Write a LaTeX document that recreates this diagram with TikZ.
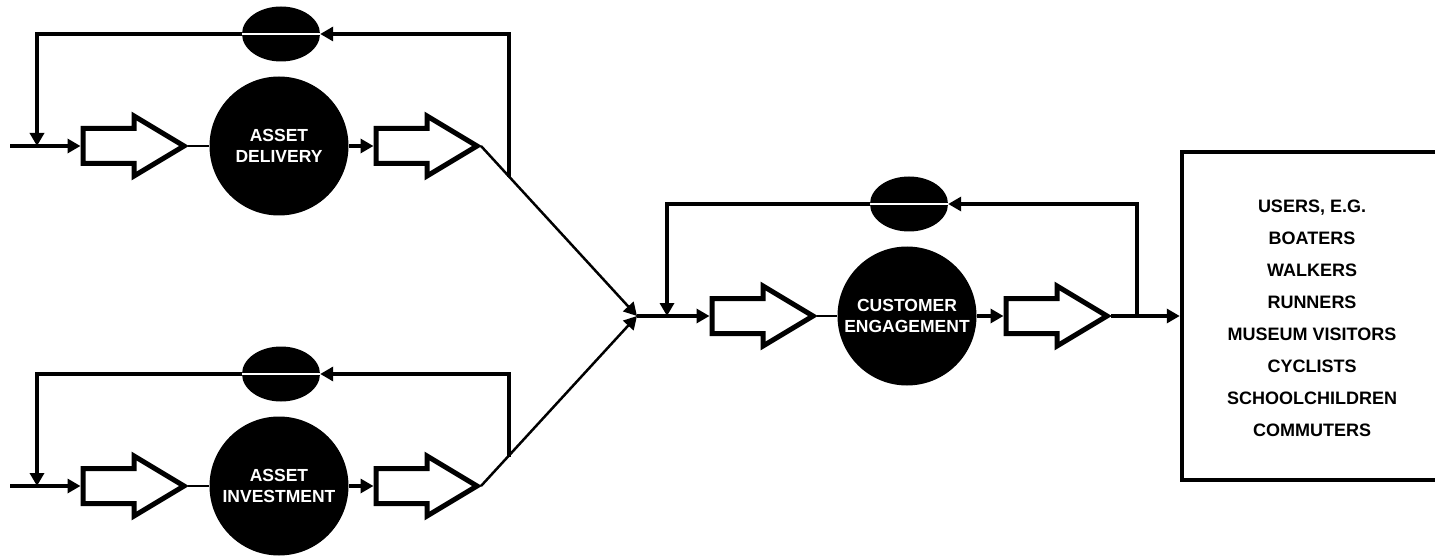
\documentclass[tikz,border=0pt]{standalone}
\usepackage{fontspec}
\newfontfamily\labfont{Liberation Sans}
\usetikzlibrary{arrows.meta,shapes.geometric}
\tikzset{
  conn/.style={line width=4pt, line join=miter},
  thinconn/.style={line width=2.5pt},
  tipped/.style={-{Triangle[length=13pt,width=14pt]}},
  bigarr/.style={draw, line width=5pt, line join=miter, fill=white},
  disc/.style={circle, fill=black, minimum size=139pt, inner sep=0pt, text=white, align=center,
    font=\labfont\bfseries\fontsize{17.5}{21}\selectfont},
  oval/.style={ellipse, fill=black, minimum width=78pt, minimum height=55pt, inner sep=0pt},
  whiteline/.style={draw=white, line width=1.5pt},
  userbox/.style={draw, line width=4.5pt, minimum width=260pt, minimum height=328pt, inner sep=0pt},
  usertext/.style={anchor=north, align=center, inner sep=0pt,
    font=\labfont\bfseries\fontsize{18}{32}\selectfont}
}
% big outlined arrow: name, left x (path), centre y
\newcommand\bigarrow[3]{%
  \draw[bigarr] (#2,#3) ++(0,-17.5) -- ++(51,0) -- ++(0,-12.5) -- ++(50,30) -- ++(-50,30) -- ++(0,-12.5) -- ++(-51,0) -- cycle;
  \coordinate (#1-w) at ({#2-2.5},#3);
  \coordinate (#1-tip) at ({#2+105},#3);
}
\begin{document}
\begin{tikzpicture}[x=1pt,y=-1pt]
\useasboundingbox (0,0) rectangle (1435,556);

% ---------- junction and right box ----------
\coordinate (J) at (637,316);
\node[userbox] (box) at (1312,316) {};
\node[usertext] (users) at (1312,200) {USERS, E.G.\\BOATERS\\WALKERS\\RUNNERS\\MUSEUM VISITORS\\CYCLISTS\\SCHOOLCHILDREN\\COMMUTERS};

% ---------- top module: asset delivery ----------
\node[disc] (Tdisc) at (279,146) {ASSET\\DELIVERY};
\node[oval] (Tell) at (281,34) {};
\coordinate (Tin) at (10,146);
\coordinate (Tfbend) at (37,146);
\coordinate (Tfb0) at (509,177);
\bigarrow{Ta1}{83}{146}
\bigarrow{Ta2}{376}{146}
\draw[conn,tipped] (Tin) -- (Ta1-w);
\draw[conn,tipped] (Tfb0) |- (Tell.east);
\draw[conn,tipped] (Tell.west) -| (Tfbend);
\draw[whiteline] (Tell.west) -- (Tell.east);
\draw[thinconn] (Ta1-tip) -- (Tdisc.west);
\draw[conn,tipped] (Tdisc.east) -- (Ta2-w);
\draw[thinconn,tipped] (Ta2-tip) -- (J);

% ---------- bottom module: asset investment ----------
\node[disc] (Bdisc) at (279,486) {ASSET\\INVESTMENT};
\node[oval] (Bell) at (281,374) {};
\coordinate (Bin) at (10,486);
\coordinate (Bfbend) at (37,486);
\coordinate (Bfb0) at (509,457);
\bigarrow{Ba1}{83}{486}
\bigarrow{Ba2}{376}{486}
\draw[conn,tipped] (Bin) -- (Ba1-w);
\draw[conn,tipped] (Bfb0) |- (Bell.east);
\draw[conn,tipped] (Bell.west) -| (Bfbend);
\draw[whiteline] (Bell.west) -- (Bell.east);
\draw[thinconn] (Ba1-tip) -- (Bdisc.west);
\draw[conn,tipped] (Bdisc.east) -- (Ba2-w);
\draw[thinconn,tipped] (Ba2-tip) -- (J);

% ---------- middle module: customer engagement ----------
\node[disc] (Mdisc) at (907,316) {CUSTOMER\\ENGAGEMENT};
\node[oval] (Mell) at (909,204) {};
\coordinate (Mfbend) at (667,316);
\coordinate (Mfb0) at (1137,316);
\bigarrow{Ma1}{712}{316}
\bigarrow{Ma2}{1006}{316}
\draw[conn,tipped] (J) -- (Ma1-w);
\draw[conn,tipped] (Mfb0) |- (Mell.east);
\draw[conn,tipped] (Mell.west) -| (Mfbend);
\draw[whiteline] (Mell.west) -- (Mell.east);
\draw[thinconn] (Ma1-tip) -- (Mdisc.west);
\draw[conn,tipped] (Mdisc.east) -- (Ma2-w);
\draw[conn,tipped] (Ma2-tip) -- (box.west);
\end{tikzpicture}
\end{document}
